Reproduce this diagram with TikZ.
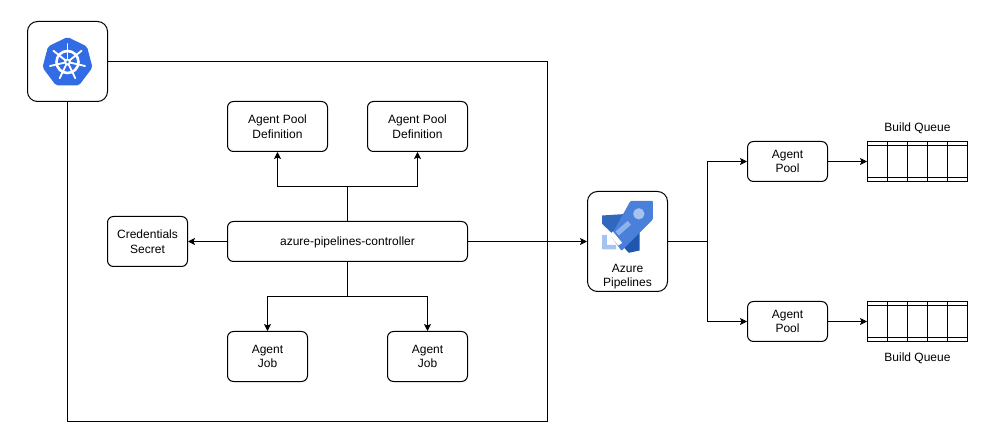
\documentclass[tikz,border=0pt]{standalone}
\usepackage{fontspec}
\setmainfont{Liberation Sans}
\usetikzlibrary{arrows.meta}
\definecolor{kblue}{HTML}{326CE5}
\definecolor{azmid}{HTML}{4A80DA}
\definecolor{azdark}{HTML}{3068C0}
\definecolor{azdeep}{HTML}{1F56B0}
\definecolor{azlight}{HTML}{A6C3F0}
\tikzset{
  box/.style={draw=black,line width=1pt,rounded corners=6pt,fill=white,inner sep=0pt,align=center,font=\fontsize{12}{14.5}\selectfont,execute at begin node={\rule{0pt}{10.7pt}},minimum width=#1},
  box/.default=80pt,
  wire/.style={draw=black,line width=1pt},
  arr/.style={wire,-{Stealth[length=7pt,width=7pt,inset=1.5pt]}},
  qline/.style={draw=black,line width=1pt},
  lbl/.style={font=\fontsize{12}{14.5}\selectfont,inner sep=0pt,align=center}
}
\begin{document}
\begin{tikzpicture}[x=1pt,y=-1pt]
\useasboundingbox (-0.5,-0.5) rectangle (1003.5,445.5);
\fill[white] (-0.5,-0.5) rectangle (1003.5,445.5);
% k8s
\node[box,minimum width=80pt,minimum height=80pt,rounded corners=10pt] (k8s) at (67,61) {};
\coordinate (c1) at (547,61);
\coordinate (c2) at (547,421);
\coordinate (c3) at (67,421);
\draw[wire] (k8s.east) -- (c1) -- (c2) -- (c3) -- (k8s.south);
\fill[kblue,rounded corners=2pt] (67,36.5) -- (86.5,46) -- (92,67) -- (78.5,85) -- (55.5,85) -- (42,67) -- (47.5,46) -- cycle;
\begin{scope}[shift={(67,61.5)}]
\draw[white,line width=2.6pt] (0,0) circle (11pt);
\foreach \a in {90,141.4,192.9,244.3,295.7,347.1,398.6}{
  \draw[white,line width=1.8pt,line cap=round] (\a:3pt) -- (\a:18pt);
}
\fill[white] (0,0) circle (3.4pt);
\fill[kblue] (0,0) circle (1.3pt);
\end{scope}
% controller group
\node[box,minimum width=100pt,minimum height=50pt] (def1) at (277,126) {Agent Pool\\Definition};
\node[box,minimum width=100pt,minimum height=50pt] (def2) at (417,126) {Agent Pool\\Definition};
\node[box,minimum width=240pt,minimum height=40pt] (ctrl) at (347,241) {azure-pipelines-controller};
\node[box,minimum width=80pt,minimum height=50pt] (cred) at (147,241) {Credentials\\Secret};
\node[box,minimum width=80pt,minimum height=50pt] (job1) at (267,356) {Agent\\Job};
\node[box,minimum width=80pt,minimum height=50pt] (job2) at (427,356) {Agent\\Job};
\coordinate (jt) at (347,186);
\coordinate (jb) at (347,296);
\draw[arr] (ctrl.north) -- (jt) -| (def1.south);
\draw[arr] (jt) -| (def2.south);
\draw[arr] (ctrl.west) -- (cred.east);
\draw[arr] (ctrl.south) -- (jb) -| (job1.north);
\draw[arr] (jb) -| (job2.north);
% azure
\node[box,minimum width=80pt,minimum height=100pt,rounded corners=10pt] (az) at (627,241) {};
\node[lbl] (azl) at (627,276) {Azure\\Pipelines};
\begin{scope}[shift={(595,195)},x=0.3333pt,y=-0.3333pt]
\fill[azdark] (20,60) -- (82,56) -- (95,85) -- (48,112) -- (20,85) -- cycle;
\fill[azdeep] (75,145) -- (132,100) -- (132,165) -- (100,172) -- cycle;
\fill[azmid,rounded corners=1pt] (105,16) -- (172,16) -- (172,72) -- (78,166) -- (46,122) -- cycle;
\fill[azlight] (130,55) circle (17);
\fill[azlight,opacity=.75] (60,108) -- (97,76) -- (106,88) -- (70,120) -- cycle;
\fill[azlight] (20,118) -- (34,118) -- (34,148) -- (62,148) -- (62,162) -- (20,162) -- cycle;
\fill[white] (42,118) -- (52,108) -- (80,142) -- (68,150) -- cycle;
\end{scope}
% pools
\node[box,minimum width=80pt,minimum height=40pt] (p1) at (787,161) {Agent\\Pool};
\node[box,minimum width=80pt,minimum height=40pt] (p2) at (787,321) {Agent\\Pool};
\coordinate (js) at (707,241);
\draw[arr] (ctrl.east) -- (az.west);
\draw[arr] (az.east) -- (js) |- (p1.west);
\draw[arr] (js) |- (p2.west);
% queues
\node[draw=black,line width=1pt,minimum width=100pt,minimum height=40pt,inner sep=0pt] (q1) at (917,161) {};
\node[draw=black,line width=1pt,minimum width=100pt,minimum height=40pt,inner sep=0pt] (q2) at (917,321) {};
\foreach \q/\y in {q1/141,q2/301}{
  \draw[qline] (867,\y+4) -- (967,\y+4);
  \draw[qline] (867,\y+36) -- (967,\y+36);
  \foreach \x in {887,907,927,947}{\draw[qline] (\x,\y) -- (\x,\y+40);}
}
\draw[arr] (p1.east) -- (q1.west);
\draw[arr] (p2.east) -- (q2.west);
\node[lbl] (t1) at (917,127.5) {Build Queue};
\node[lbl] (t2) at (917,357.5) {Build Queue};
\end{tikzpicture}
\end{document}
